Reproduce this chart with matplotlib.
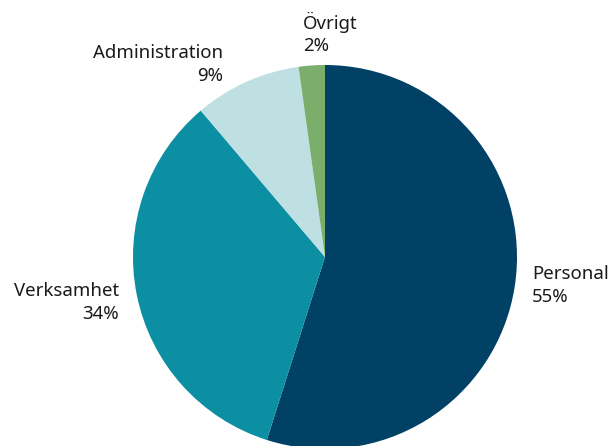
import numpy as np
import matplotlib.pyplot as plt

plt.rcParams['font.family'] = ['Noto Sans', 'DejaVu Sans']

# --- Daten ---
kategorien = ["Personal", "Verksamhet", "Administration", "Övrigt"]
anteile = [54.9, 33.9, 9.0, 2.2]
etiketten = ["55%", "34%", "9%", "2%"]
farben = ["#004165", "#0C8FA3", "#BEE0E3", "#7BAE6B"]

# Label-Platzierung (Abstand relativ zum Radius, Ausrichtung)
label_abstand = [1.09, 1.1, 1.135, 1.17]
label_ha = ["left", "right", "right", "left"]
label_winkel_offset = [1, 1, 3.8, 1.7]

fig = plt.figure(figsize=(6.10, 4.46), dpi=100)
ax = fig.add_axes([0, 0, 1, 1])

mitte = (325, 189)
radius = 192

wedges, _ = ax.pie(anteile, colors=farben, startangle=90, counterclock=False,
                   center=mitte, radius=radius, frame=True)
ax.set_xlim(0, 610)
ax.set_ylim(0, 446)
ax.set_aspect("equal")
ax.axis("off")

for w, name, pct, d, ha, off in zip(wedges, kategorien, etiketten,
                                     label_abstand, label_ha, label_winkel_offset):
    ang = np.deg2rad((w.theta1 + w.theta2) / 2 + off)
    x = mitte[0] + d * radius * np.cos(ang)
    y = mitte[1] + d * radius * np.sin(ang)
    ax.text(x, y, f"{name}\n{pct}", ha=ha, va="center", fontsize=13.4,
            color="#1a1a1a", linespacing=1.35)

fig.savefig("out.png", dpi=100)
